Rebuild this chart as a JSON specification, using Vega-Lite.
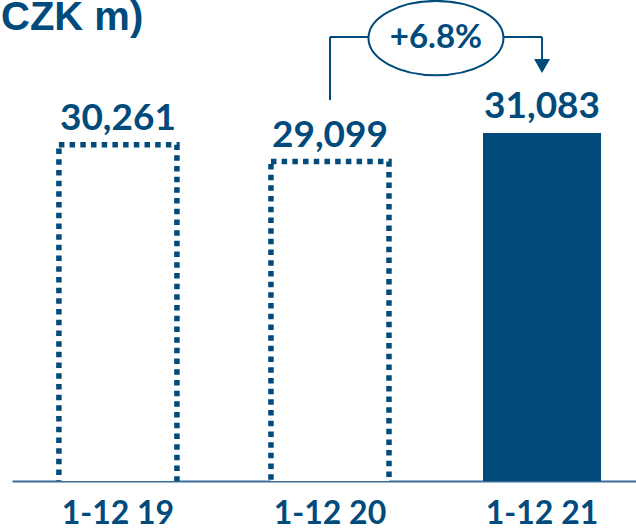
{
  "$schema": "https://vega.github.io/schema/vega-lite/v6.json",
  "width": 624,
  "height": 481,
  "autosize": {"type": "none"},
  "padding": {"left": 12, "top": 0, "right": 0, "bottom": 48},
  "background": "white",
  "title": {
    "text": "CZK m)",
    "anchor": "start",
    "frame": "group",
    "dx": -11,
    "offset": -73,
    "baseline": "alphabetic",
    "font": "Liberation Sans",
    "fontSize": 40,
    "fontWeight": "bold",
    "color": "#004a7c"
  },
  "config": {"view": {"stroke": null}},
  "data": {
    "values": [
      {"period": "1-12 19", "revenue": 30261},
      {"period": "1-12 20", "revenue": 29099},
      {"period": "1-12 21", "revenue": 31083}
    ]
  },
  "layer": [
    {
      "transform": [{"filter": "datum.period !== '1-12 21'"}],
      "mark": {"type": "bar", "fill": "white", "stroke": "#004a7c", "strokeWidth": 5.5, "strokeDash": [5.5, 5.2], "clip": true},
      "encoding": {
        "x": {
          "field": "period",
          "type": "nominal",
          "sort": ["1-12 19", "1-12 20", "1-12 21"],
          "scale": {"domain": ["1-12 19", "1-12 20", "1-12 21"], "paddingInner": 0.4434, "paddingOuter": 0.193, "align": 0.573},
          "axis": {
            "title": null,
            "ticks": false,
            "domainColor": "#3a6d95",
            "domainWidth": 2,
            "labelFont": "Lato",
            "labelFontSize": 32,
            "labelFontWeight": "bold",
            "labelColor": "#004a7c",
            "labelPadding": 17,
            "labelAngle": 0
          }
        },
        "y": {
          "field": "revenue",
          "type": "quantitative",
          "scale": {"domain": [6850, 40350], "zero": false, "nice": false},
          "axis": null
        },
        "y2": {"datum": 5000}
      }
    },
    {
      "transform": [{"filter": "datum.period === '1-12 21'"}],
      "mark": {"type": "bar", "color": "#004a7c", "clip": true},
      "encoding": {
        "x": {"field": "period", "type": "nominal"},
        "y": {"field": "revenue", "type": "quantitative"},
        "y2": {"datum": 5000}
      }
    },
    {
      "mark": {"type": "text", "font": "Lato", "fontSize": 37, "fontWeight": "bold", "color": "#004a7c", "baseline": "alphabetic", "dy": -15},
      "encoding": {
        "x": {"field": "period", "type": "nominal"},
        "y": {"field": "revenue", "type": "quantitative"},
        "text": {"field": "revenue", "type": "quantitative", "format": ","}
      }
    },
    {
      "data": {"values": [{"from": "1-12 20", "to": "1-12 21", "growth": "+6.8%"}]},
      "layer": [
        {
          "mark": {"type": "rule", "color": "#004a7c", "strokeWidth": 2},
          "encoding": {
            "x": {"field": "from", "type": "nominal"},
            "y": {"datum": 33383, "type": "quantitative"},
            "y2": {"datum": 37770}
          }
        },
        {
          "mark": {"type": "rule", "color": "#004a7c", "strokeWidth": 2},
          "encoding": {
            "x": {"field": "from", "type": "nominal"},
            "x2": {"field": "to"},
            "y": {"datum": 37770, "type": "quantitative"}
          }
        },
        {
          "mark": {"type": "rule", "color": "#004a7c", "strokeWidth": 2},
          "encoding": {
            "x": {"field": "to", "type": "nominal"},
            "y": {"datum": 37770, "type": "quantitative"},
            "y2": {"datum": 35900}
          }
        },
        {
          "mark": {"type": "point", "shape": "triangle-down", "size": 256, "filled": true, "color": "#004a7c", "opacity": 1},
          "encoding": {
            "x": {"field": "to", "type": "nominal"},
            "y": {"datum": 35750, "type": "quantitative"}
          }
        },
        {
          "mark": {"type": "point", "shape": "M -1 0 C -1 -0.3038 -0.5523 -0.55 0 -0.55 C 0.5523 -0.55 1 -0.3038 1 0 C 1 0.3038 0.5523 0.55 0 0.55 C -0.5523 0.55 -1 0.3038 -1 0 Z", "size": 18225, "filled": true, "fill": "white", "stroke": "#004a7c", "strokeWidth": 2, "opacity": 1, "xOffset": 106},
          "encoding": {
            "x": {"field": "from", "type": "nominal"},
            "y": {"datum": 37700, "type": "quantitative"}
          }
        },
        {
          "mark": {"type": "text", "font": "Lato", "fontSize": 33, "fontWeight": "bold", "color": "#004a7c", "baseline": "middle", "xOffset": 106},
          "encoding": {
            "x": {"field": "from", "type": "nominal"},
            "y": {"datum": 37700, "type": "quantitative"},
            "text": {"field": "growth"}
          }
        }
      ]
    }
  ]
}
